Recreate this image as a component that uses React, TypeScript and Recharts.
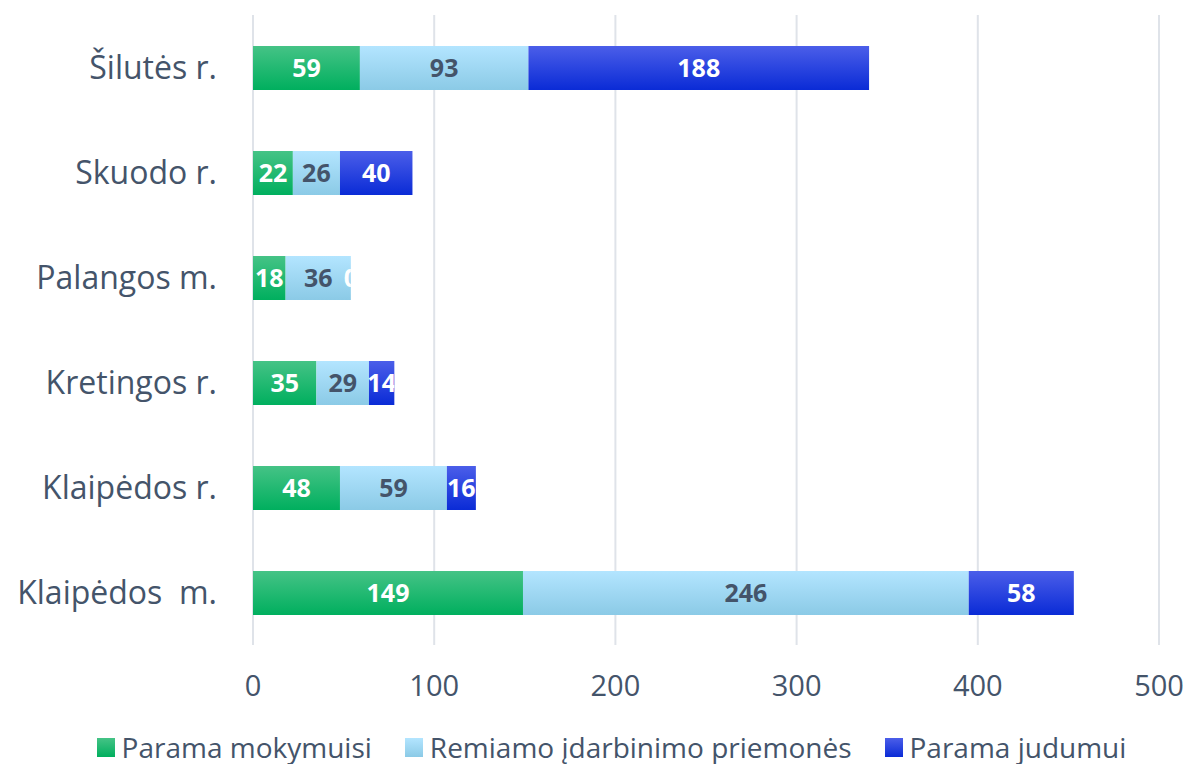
import { BarChart, Bar, XAxis, YAxis, CartesianGrid, Legend, LabelList } from "recharts";

const categories = ["Šilutės r.", "Skuodo r.", "Palangos m.", "Kretingos r.", "Klaipėdos r.", "Klaipėdos  m."];
const mokymuisi = [59, 22, 18, 35, 48, 149];
const idarbinimo = [93, 26, 36, 29, 59, 246];
const judumui = [188, 40, 0, 14, 16, 58];
const xTicks = [0, 100, 200, 300, 400, 500];

const series = [
  { key: "mokymuisi", name: "Parama mokymuisi", values: mokymuisi, top: "#45C386", bottom: "#00AF5E", text: "#FFFFFF" },
  { key: "idarbinimo", name: "Remiamo įdarbinimo priemonės", values: idarbinimo, top: "#B3E5FF", bottom: "#8BCAE6", text: "#44546A" },
  { key: "judumui", name: "Parama judumui", values: judumui, top: "#4B5EE9", bottom: "#0A2BD6", text: "#FFFFFF" },
];

const data = categories.map((name, i) => ({
  name,
  mokymuisi: mokymuisi[i],
  idarbinimo: idarbinimo[i],
  judumui: judumui[i],
}));

const AXIS_COLOR = "#44546A";
const FONT = "'Open Sans', sans-serif";

function CategoryTick(props: any) {
  const { x, y, payload } = props;
  return (
    <text
      x={x}
      y={y}
      dy="0.36em"
      textAnchor="end"
      fill={AXIS_COLOR}
      fontSize={32}
      fontFamily={FONT}
      style={{ whiteSpace: "pre" }}
    >
      {payload.value}
    </text>
  );
}

// labels are clipped at the right end of their segment, like in the original.
// a zero segment has no bar of its own, so its label is drawn by the segment before it
function makeLabel(si: number) {
  return (props: any) => {
    const x = Number(props.x);
    const y = Number(props.y);
    const w = Number(props.width);
    const h = Number(props.height);
    const pad = 200;
    const next = series[si + 1];
    const nextZero = next && next.values[props.index] === 0;
    const txt = (cx: number, color: string, v: any) => (
      <text
        x={cx}
        y={h / 2}
        dy="0.36em"
        textAnchor="middle"
        fill={color}
        fontSize={25}
        fontWeight={700}
        fontFamily={FONT}
      >
        {v}
      </text>
    );
    return (
      <svg x={x - pad} y={y} width={Math.max(w, 0) + pad} height={h} overflow="hidden">
        {txt(pad + w / 2, series[si].text, props.value)}
        {nextZero ? txt(pad + w, next.text, 0) : null}
      </svg>
    );
  };
}

function LegendContent() {
  return (
    <div
      style={{
        display: "flex",
        justifyContent: "center",
        alignItems: "center",
        gap: 33,
        paddingLeft: 64,
        paddingTop: 10,
        boxSizing: "border-box",
        fontFamily: FONT,
        fontSize: 28,
        lineHeight: "30px",
        color: AXIS_COLOR,
        height: 44,
      }}
    >
      {series.map((s) => (
        <div key={s.key} style={{ display: "flex", alignItems: "center" }}>
          <span
            style={{
              width: 18,
              height: 19,
              marginRight: 7,
              background: `linear-gradient(${s.top}, ${s.bottom})`,
              display: "inline-block",
            }}
          />
          <span>{s.name}</span>
        </div>
      ))}
    </div>
  );
}

export default function App() {
  return (
    <div style={{ position: "absolute", left: 0, top: 0, background: "#fff" }}>
      <BarChart
        width={1189}
        height={764}
        data={data}
        layout="vertical"
        margin={{ top: 15, right: 30, bottom: 0, left: 0 }}
        barSize={44}
      >
        <defs>
          {series.map((s) => (
            <linearGradient key={s.key} id={`grad-${s.key}`} x1="0" y1="0" x2="0" y2="1">
              <stop offset="0%" stopColor={s.top} />
              <stop offset="100%" stopColor={s.bottom} />
            </linearGradient>
          ))}
        </defs>
        <CartesianGrid horizontal={false} stroke="#DFE3E9" strokeWidth={2} />
        <XAxis
          type="number"
          domain={[0, 500]}
          ticks={xTicks}
          height={75}
          axisLine={false}
          tickLine={false}
          tickSize={0}
          tickMargin={30}
          tick={{ fill: AXIS_COLOR, fontSize: 29, fontFamily: FONT }}
        />
        <YAxis
          type="category"
          dataKey="name"
          width={253}
          axisLine={false}
          tickLine={false}
          tickSize={0}
          tickMargin={36}
          interval={0}
          tick={<CategoryTick />}
        />
        <Legend verticalAlign="bottom" height={44} content={<LegendContent />} />
        {series.map((s, si) => (
          <Bar
            key={s.key}
            dataKey={s.key}
            name={s.name}
            stackId="a"
            fill={`url(#grad-${s.key})`}
            isAnimationActive={false}
          >
            <LabelList dataKey={s.key} content={makeLabel(si)} />
          </Bar>
        ))}
      </BarChart>
    </div>
  );
}
